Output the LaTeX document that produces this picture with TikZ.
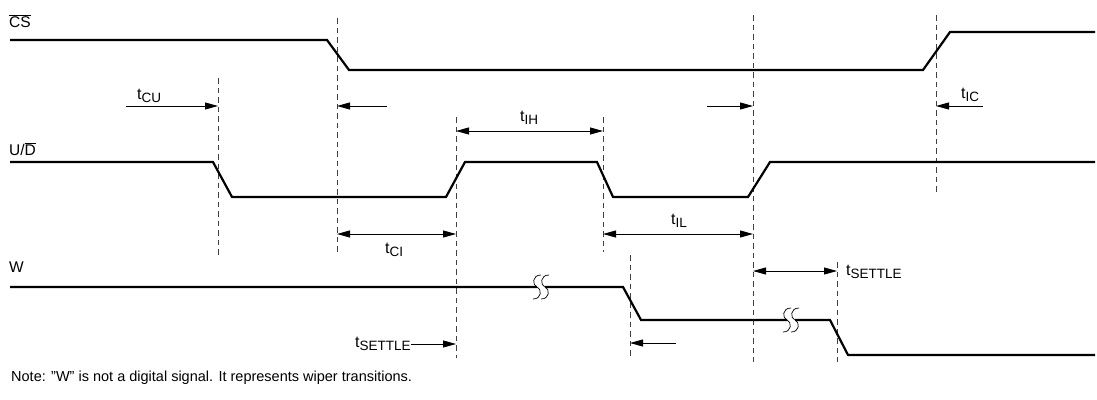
\documentclass[tikz,border=0pt]{standalone}
\usepackage{fontspec}
\setmainfont{Liberation Sans}
\usetikzlibrary{arrows.meta}
\newcommand\tsb[1]{{\fontsize{16}{18}\selectfont t}\raisebox{-3pt}{\fontsize{13.5}{15}\selectfont #1}}
\begin{document}
\begin{tikzpicture}[x=1pt,y=-1pt,
  sig/.style={line width=2.2pt},
  guide/.style={line width=0.9pt, black!75, dash pattern=on 5.5pt off 4pt},
  dim/.style={line width=0.9pt},
  tip/.style={dim,-{Triangle[length=13pt,width=7pt]}},
  both/.style={dim,{Triangle[length=13pt,width=7pt]}-{Triangle[length=13pt,width=7pt]}},
  lab/.style={font=\fontsize{15.5}{18}\selectfont, inner sep=0pt, anchor=base west},
  brk/.style={line width=0.7pt}]
\useasboundingbox (0,0) rectangle (1097,399);

% signal names
\node[lab] (lcs) at (9,27) {$\overline{\mbox{CS}}$};
\node[lab] (lud) at (9,155) {U/$\overline{\mbox{D}}$};
\node[lab] (lw) at (9,272) {W};

% dashed guide lines
\coordinate (d1t) at (218,78);  \coordinate (d1b) at (218,255);
\coordinate (d2t) at (337,18);  \coordinate (d2b) at (337,252);
\coordinate (d3t) at (456,117); \coordinate (d3b) at (456,358);
\coordinate (d4t) at (603,117); \coordinate (d4b) at (603,252);
\coordinate (d5t) at (753,15);  \coordinate (d5b) at (753,362);
\coordinate (d6t) at (936,15);  \coordinate (d6b) at (936,193);
\coordinate (d7t) at (630,255); \coordinate (d7b) at (630,357);
\coordinate (d8t) at (837,262); \coordinate (d8b) at (837,362);
\foreach \i in {1,...,8} \draw[guide] (d\i t) -- (d\i b);

% signals
\draw[sig] (10,40) -- (327,40) -- (349,70) -- (923,70) -- (950,32) -- (1095,32);
\draw[sig] (10,162) -- (213,162) -- (232,197) -- (446,197) -- (465,162) -- (597,162)
  -- (613,197) -- (748,197) -- (770,162) -- (1095,162);
\draw[sig] (10,287) -- (623,287) -- (641,320) -- (830,320) -- (848,355) -- (1095,355);

% break marks
\foreach \cx/\cy in {541/287, 791/320} {
  \fill[white] (\cx-4,\cy-3) rectangle (\cx+4,\cy+3);
  \foreach \dx in {-4,4}
    \draw[brk] (\cx+\dx+4,\cy-12) .. controls (\cx+\dx-5,\cy-12) and (\cx+\dx-5,\cy-2) .. (\cx+\dx,\cy)
      .. controls (\cx+\dx+5,\cy+2) and (\cx+\dx+5,\cy+12) .. (\cx+\dx-4,\cy+12);
}

% timing arrows
\coordinate (a1) at (126,106); \coordinate (e1) at (218,106);
\coordinate (a2) at (387,106); \coordinate (e2) at (337,106);
\coordinate (a3) at (707,106); \coordinate (e3) at (753,106);
\coordinate (a4) at (983,106); \coordinate (e4) at (936,106);
\coordinate (a5) at (676,343); \coordinate (e5) at (630,343);
\draw[tip] (a1) -- (e1);
\draw[tip] (a2) -- (e2);
\draw[tip] (a3) -- (e3);
\draw[tip] (a4) -- (e4);
\draw[tip] (a5) -- (e5);

\coordinate (ih1) at (456,131); \coordinate (ih2) at (603,131);
\coordinate (ci1) at (337,234); \coordinate (ci2) at (456,234);
\coordinate (il1) at (603,234); \coordinate (il2) at (753,234);
\coordinate (st1) at (753,271); \coordinate (st2) at (837,271);
\draw[both] (ih1) -- (ih2);
\draw[both] (ci1) -- (ci2);
\draw[both] (il1) -- (il2);
\draw[both] (st1) -- (st2);

% timing labels
\node[lab] (tcu) at (137,99) {\tsb{CU}};
\node[lab] (tic) at (961,98) {\tsb{IC}};
\node[lab] (tih) at (520,121) {\tsb{IH}};
\node[lab] (tci) at (385,253) {\tsb{CI}};
\node[lab] (til) at (671,224) {\tsb{IL}};
\node[lab] (ts1) at (846,275) {\tsb{SETTLE}};
\node[lab] (ts2) at (355,347) {\tsb{SETTLE}};
\coordinate (e6) at (456,344);
\draw[tip] (ts2.east |- e6) -- (e6);

% note
\node[lab, font=\fontsize{14.5}{17}\selectfont] (note) at (11,381)
  {Note: "W" is not a digital signal. It represents wiper transitions.};
\end{tikzpicture}
\end{document}
